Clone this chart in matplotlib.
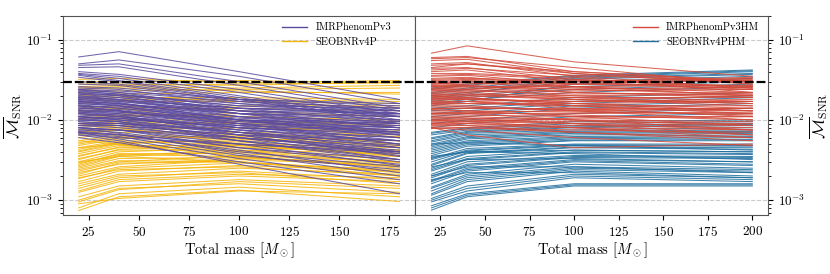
"""
mismatch of precessing waveform models vs total mass
"""
import numpy as np
import matplotlib
matplotlib.use('Agg')
import matplotlib.pyplot as plt

plt.rcParams['font.family'] = 'serif'
plt.rcParams['font.serif'] = ['cmr10', 'DejaVu Serif']
plt.rcParams['mathtext.fontset'] = 'cm'
plt.rcParams['axes.formatter.use_mathtext'] = True

# total mass grid (M_sun) where the mismatch was evaluated
mass_left = [20, 40, 100, 180]
mass_right = [20, 40, 100, 200]

# mismatch values, in units of 1e-3, one tuple per injection
pv3 = [
    (61, 71, 40, 18), (50, 56, 35, 16), (48, 50, 30, 14), (45, 46, 27, 13),
    (40, 37, 24, 12), (38, 35, 22, 11), (37, 33, 20, 10), (36, 31, 19, 9.5),
    (34, 30, 18, 9), (25, 24, 16, 11), (24, 22, 14, 9), (23, 21, 15, 12),
    (22, 20, 12, 7), (21, 19, 13, 10), (20, 18, 11, 6.5), (19, 17, 12, 9),
    (18, 16.5, 10, 6), (17, 16, 11, 8.5), (16, 15, 9, 5), (15.5, 14, 10, 8),
    (15, 13, 8, 4.5), (14, 13.5, 9.5, 7.5), (13, 12, 7.5, 4), (12.5, 12, 9, 7),
    (12, 11, 7, 3.8), (11.5, 11, 8, 6), (11, 10, 6.5, 3.5), (10.5, 10.5, 8, 6.5),
    (10, 9.5, 6, 3.2), (9.5, 9, 7, 5), (9, 8.5, 5.5, 3), (8.5, 8.5, 6.5, 5.5),
    (8, 7.5, 5, 2.7), (7.5, 7.5, 6, 4.5), (7, 6.5, 4.2, 2.2), (6.5, 6, 5, 4),
    (6, 5.2, 3, 1.6), (6.5, 5.5, 2.8, 1.2), (7, 5.8, 3.3, 1.8), (8, 6.8, 3.8, 2.0),
    (20, 19, 14, 13), (18, 17, 13, 12), (16, 15, 12, 11), (13, 13, 10, 9),
    (10, 10, 8.5, 7.5), (14, 13, 9, 5.5), (11, 10, 7, 4.5), (17, 15, 10, 7),
    (9, 9, 7.5, 6), (12, 11.5, 9, 8),
    (23.5, 22, 17, 14), (22.5, 21, 13, 8), (21.5, 20.5, 16, 13), (19.5, 18, 12, 8),
    (18.5, 17.5, 14, 12), (17.5, 16, 10, 6.5), (16.5, 15.5, 13, 11), (15, 14, 10.5, 9),
    (14.5, 13, 8.5, 5), (13.5, 12.5, 10, 8.5), (12, 11, 8.5, 7), (11, 10.5, 7.5, 5.5),
    (10, 9.5, 7, 5.5), (9, 8.5, 6.5, 4.8), (8.5, 8, 6, 4.2), (8, 7.5, 5.5, 4),
    (7.5, 7, 4.5, 3.2), (7, 6.5, 5, 3.8), (26, 25, 18, 15), (28, 27, 17, 12),
    (30, 28, 18, 13), (24, 23, 18, 16), (21, 20, 15, 14), (19, 18, 14, 11.5),
    (17, 16, 12, 10), (15, 14.5, 11, 9.5), (13, 12.5, 9.5, 8), (11, 10.5, 8, 6.8),
    (9.5, 9, 6, 4), (8, 7.5, 4.5, 2.8), (6.8, 6.2, 3.6, 2.4), (7.2, 6.6, 4.0, 2.6),
    (10.5, 9.5, 5.5, 3.2), (12.5, 11.5, 6.5, 3.6),
]
v4p = [
    (0.74, 1.1, 1.33, 0.96), (0.8, 1.2, 1.45, 1.1), (0.9, 1.05, 1.3, 1.2),
    (0.95, 1.35, 1.7, 1.4), (1.1, 1.5, 1.8, 1.5), (1.25, 1.7, 2.0, 1.7),
    (1.4, 1.9, 2.3, 1.8), (1.6, 2.1, 2.5, 2.1), (1.7, 2.3, 2.7, 2.3),
    (1.85, 2.5, 2.9, 2.4), (2.0, 2.6, 3.2, 2.7), (2.1, 2.9, 3.0, 2.2),
    (2.3, 3.0, 3.6, 3.0), (2.5, 3.3, 3.4, 2.6), (2.6, 3.5, 4.0, 3.5),
    (2.8, 3.8, 3.8, 3.0), (3.0, 4.0, 4.5, 4.0), (3.3, 4.2, 4.2, 3.2),
    (3.5, 4.6, 5.0, 4.5), (3.8, 4.8, 4.8, 3.6), (4.1, 5.2, 5.5, 5.0),
    (4.5, 5.5, 5.3, 4.2), (5.0, 6.0, 6.2, 5.5), (5.5, 6.5, 6.0, 4.8),
    (6, 7, 7, 6.5), (7, 8, 8, 7.5), (8, 9, 9.5, 9), (9, 10, 10, 8.5),
    (10, 11, 12, 11), (11, 12, 11, 9.5), (12.5, 13.5, 14, 13), (14, 15, 13, 11),
    (16, 17, 17, 16), (18, 19, 19, 18), (20, 21, 22, 22), (22, 23, 24, 25),
    (25, 26, 25, 27), (28, 28, 27, 30), (32, 33, 29, 31), (30, 30, 31, 29),
    (12, 11, 7, 5), (9, 8, 5, 3.5), (15, 14, 9, 6), (5.5, 5, 3.5, 2.5),
    (7, 7.5, 6.5, 5.5), (19, 20, 17, 14),
    (1.0, 1.4, 1.6, 1.25), (1.3, 1.8, 2.1, 1.9), (1.5, 2.0, 2.2, 1.6),
    (1.9, 2.4, 2.6, 2.0), (2.2, 2.8, 3.3, 2.9), (2.4, 3.1, 3.0, 2.3),
    (2.7, 3.6, 4.2, 3.8), (2.9, 3.7, 3.5, 2.7), (3.2, 4.3, 4.8, 4.2),
    (3.6, 4.5, 4.6, 3.8), (4.0, 5.0, 5.8, 5.5), (4.3, 5.3, 5.0, 4.0),
    (4.8, 5.8, 6.5, 6.2), (5.2, 6.2, 5.8, 4.6), (6.5, 7.5, 8, 7),
    (7.5, 8.5, 9, 8.5), (8.5, 9.5, 9, 7.5), (10.5, 11.5, 11, 10),
    (13, 14, 15, 15), (17, 18, 18, 17), (24, 25, 23, 21), (26, 27, 28, 29),
    (3.0, 3.5, 3.0, 2.0), (4.5, 5.0, 4.0, 3.0),
]
pv3hm = [
    (68, 84, 53, 35), (60, 62, 40, 30), (58, 60, 45, 28), (55, 57, 38, 30),
    (50, 52, 35, 25), (45, 50, 38, 28), (44, 45, 32, 25), (40, 42, 30, 24),
    (38, 38, 34, 22), (35, 36, 28, 27), (33, 34, 26, 20), (31, 32, 30, 33),
    (28, 29, 25, 24), (26, 27, 22, 20), (25, 26, 24, 26), (24, 24, 20, 17),
    (22, 23, 21, 22), (21, 21, 18, 15), (20, 20, 19, 19), (19, 19, 16, 13),
    (18, 18, 17, 17), (17, 17, 14, 11), (16, 16, 15, 15), (15, 15, 13, 10),
    (14, 14, 14, 14), (13.5, 13, 11, 8.5), (13, 13, 12.5, 12), (12, 12, 10, 7.5),
    (11.5, 11.5, 11, 11), (11, 10.5, 9, 6.5), (10.5, 10.5, 10, 9.5), (10, 9.5, 8, 6),
    (9.5, 9.5, 9, 8.5), (9, 8.5, 7, 5.5), (8.5, 8.5, 8, 7.5), (8, 6.5, 4.5, 5),
    (8, 7.5, 6, 4.8), (23, 24, 28, 32), (27, 28, 30, 34), (30, 31, 28, 25),
    (20, 19, 15, 12), (16, 17, 18, 20), (12, 12.5, 13, 14), (9, 9.5, 10.5, 11),
    (29, 30, 26, 22), (27, 27, 24, 21), (26, 26, 26, 27), (24.5, 25, 22, 19),
    (23, 23, 23, 24), (21.5, 22, 19, 16), (20.5, 21, 20, 21), (19.5, 20, 18, 16),
    (18.5, 18.5, 16, 14), (17.5, 18, 17, 18), (16.5, 17, 15, 13), (15.5, 16, 16, 17),
    (14.5, 14.5, 13, 11.5), (13.8, 14, 13.5, 13), (12.5, 12.5, 11.5, 10),
    (11.8, 12, 12, 12.5), (10.8, 11, 10, 8.5), (10.2, 10, 9, 7.5), (9.8, 10, 9.5, 9),
    (9.2, 9, 8, 6.5), (8.8, 9, 8.5, 8), (8.2, 8, 7, 6), (7.8, 8, 7.5, 7),
    (36, 37, 32, 26), (42, 44, 36, 30), (48, 50, 40, 31), (32, 33, 31, 30),
    (28, 30, 30, 31),
]
v4phm = [
    (0.75, 1.1, 1.5, 1.5), (0.85, 1.2, 1.6, 1.6), (0.95, 1.3, 1.9, 1.7),
    (1.05, 1.5, 2.1, 1.9), (1.15, 1.7, 2.3, 2.0), (1.3, 1.9, 2.5, 2.3),
    (1.45, 2.1, 2.8, 2.5), (1.6, 2.3, 3.0, 2.7), (1.75, 2.5, 3.2, 3.0),
    (1.9, 2.7, 3.4, 3.3), (2.1, 3.0, 3.6, 3.5), (2.3, 3.2, 3.9, 3.7),
    (2.5, 3.5, 4.2, 4.0), (2.7, 3.8, 4.5, 4.3), (3.0, 4.1, 4.8, 4.7),
    (3.3, 4.4, 5.0, 5.0), (3.6, 4.7, 5.5, 5.5), (4.0, 5.1, 5.8, 6.0),
    (4.4, 5.5, 6.2, 6.5), (4.8, 6.0, 6.8, 7.0), (5.3, 6.5, 7.2, 7.5),
    (5.8, 7.0, 8.0, 8.5), (6.5, 7.5, 8.5, 9.0), (7, 8, 9.5, 10),
    (8, 9, 11, 12), (9, 10, 12, 14), (10, 11, 14, 16), (12, 13, 16, 19),
    (14, 15, 19, 22), (16, 18, 22, 26), (18, 20, 26, 30), (20, 22, 30, 35),
    (22, 25, 34, 40), (25, 28, 36, 42), (19, 21, 33, 38), (15, 17, 28, 33),
    (3.5, 4.0, 3.8, 3.2), (5, 5.2, 4.8, 4.2), (2.0, 2.6, 2.6, 2.2),
    (0.8, 1.15, 1.55, 1.55), (1.0, 1.4, 2.0, 1.8), (1.2, 1.8, 2.4, 2.2),
    (1.4, 2.0, 2.6, 2.4), (1.7, 2.4, 3.1, 2.8), (2.0, 2.8, 3.5, 3.4),
    (2.4, 3.3, 4.0, 3.8), (2.8, 3.9, 4.6, 4.5), (3.2, 4.2, 4.9, 4.8),
    (3.8, 4.9, 5.6, 5.7), (4.2, 5.3, 6.0, 6.2), (4.6, 5.8, 6.5, 6.8),
    (5.0, 6.2, 7.0, 7.2), (5.5, 6.8, 7.5, 8.0), (6.0, 7.2, 8.2, 8.8),
    (6.8, 7.8, 9, 9.5), (11, 12, 15, 17), (13, 14, 17, 20), (17, 19, 24, 28),
    (21, 24, 32, 37), (24, 27, 35, 41), (2.6, 3.2, 3.3, 3.0), (3.4, 4.0, 4.2, 4.0),
    (1.8, 2.2, 2.2, 1.9),
]

threshold = 0.03

colors = {
    'IMRPhenomPv3': '#5b4a9e',
    'SEOBNRv4P': '#f5b50a',
    'IMRPhenomPv3HM': '#d24a3a',
    'SEOBNRv4PHM': '#1f6e9e',
}

fig, axes = plt.subplots(1, 2, figsize=(8.3, 2.74), dpi=100)
plt.subplots_adjust(left=0.0755, right=0.9257, top=0.943, bottom=0.215, wspace=0)

panels = [
    (axes[0], mass_left, [('IMRPhenomPv3', pv3), ('SEOBNRv4P', v4p)], (1 - 22 / 352, 0.975)),
    (axes[1], mass_right, [('IMRPhenomPv3HM', pv3hm), ('SEOBNRv4PHM', v4phm)], (1 - 7 / 353, 0.975)),
]

for ax, mass, groups, anchor in panels:
    for k, (name, lines) in enumerate(groups):
        z = 3 if k == 0 else 2
        for i, vals in enumerate(lines):
            ax.plot(mass, np.array(vals) * 1e-3, color=colors[name], lw=0.75,
                    alpha=0.85, zorder=z, label=name if i == 0 else None)
    ax.axhline(threshold, color='black', lw=1.6, ls=(0, (4, 1.3)), zorder=5)
    ax.set_yscale('log')
    ax.set_ylim(6.5e-4, 0.2)
    ax.grid(True, which='major', axis='y', ls='--', color='#cccccc', lw=0.8)
    ax.set_axisbelow(True)
    ax.set_xlabel(r'Total mass [$M_\odot$]', fontsize=10.5, labelpad=1)
    ax.set_ylabel(r'$\overline{\mathcal{M}}_{\rm SNR}$', fontsize=12, labelpad=1)
    ax.tick_params(labelsize=9.5)
    for sp in ax.spines.values():
        sp.set_color('#555555')
    leg = ax.legend(loc='upper right', bbox_to_anchor=anchor, frameon=False,
                    fontsize=7.5, handlelength=2.4, borderaxespad=0, borderpad=0.2)
    for h in leg.get_lines():
        h.set_linewidth(1.0)
        h.set_alpha(1.0)

axes[0].set_xticks([25, 50, 75, 100, 125, 150, 175])
axes[1].set_xticks([25, 50, 75, 100, 125, 150, 175, 200])
axes[1].yaxis.tick_right()
axes[1].yaxis.set_label_position('right')

plt.savefig('out.png', dpi=100)
